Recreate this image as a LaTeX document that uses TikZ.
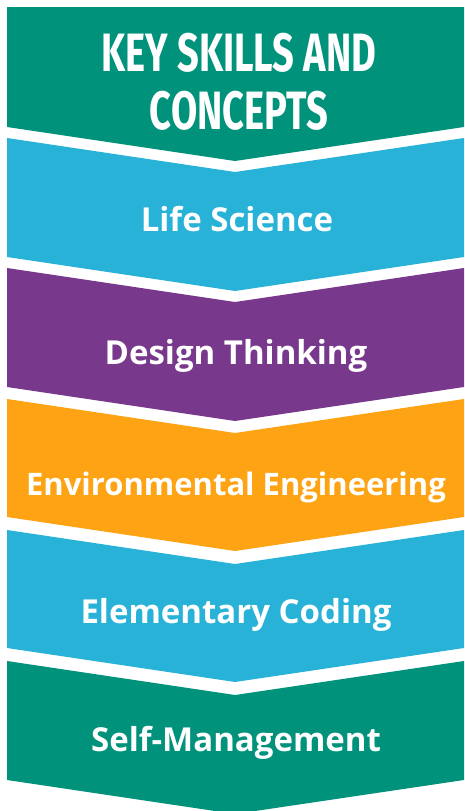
\documentclass[tikz,border=0pt]{standalone}
\usepackage{fontspec}
\setmainfont{Open Sans}
\newfontfamily\titlefont[FakeStretch=0.705]{Fira Sans}
\definecolor{kgreen}{RGB}{0,146,122}
\definecolor{kblue}{RGB}{41,178,216}
\definecolor{kpurple}{RGB}{120,57,141}
\definecolor{korange}{RGB}{253,163,20}
\tikzset{
  label/.style={text=white,font=\fontsize{33}{38}\selectfont\bfseries,inner sep=0pt,anchor=base},
  smalllabel/.style={label,font=\fontsize{31}{36}\selectfont\bfseries},
  titletext/.style={text=white,font=\titlefont\fontsize{54}{58}\selectfont\bfseries,inner sep=0pt,anchor=base,align=center}
}
\begin{document}
\begin{tikzpicture}[x=1pt,y=-1pt]
\useasboundingbox (0,0) rectangle (464,811);
\def\cx{235}\def\dd{34}
% band 1 (flat top)
\fill[kgreen] (7,7) -- (464,7) -- (464,127) -- (\cx,127+\dd) -- (7,127) -- cycle;
% generic bands
\foreach \T/\B/\col in {138/257/kblue,268/387/kpurple,399/517/korange,530/648/kblue,661/780/kgreen}{
  \fill[\col] (7,\T) -- (\cx,\T+\dd) -- (464,\T) -- (464,\B) -- (\cx,\B+\dd) -- (7,\B) -- cycle;
}
\node[titletext] (t1) at (239,71) {KEY SKILLS AND};
\node[titletext] (t2) at (239,129) {CONCEPTS};
\node[label] (l1) at (237,231) {Life Science};
\node[label] (l2) at (236,364) {Design Thinking};
\node[smalllabel] (l3) at (236,495) {Environmental Engineering};
\node[label] (l4) at (236,623) {Elementary Coding};
\node[label] (l5) at (236,751) {Self-Management};
\end{tikzpicture}
\end{document}
